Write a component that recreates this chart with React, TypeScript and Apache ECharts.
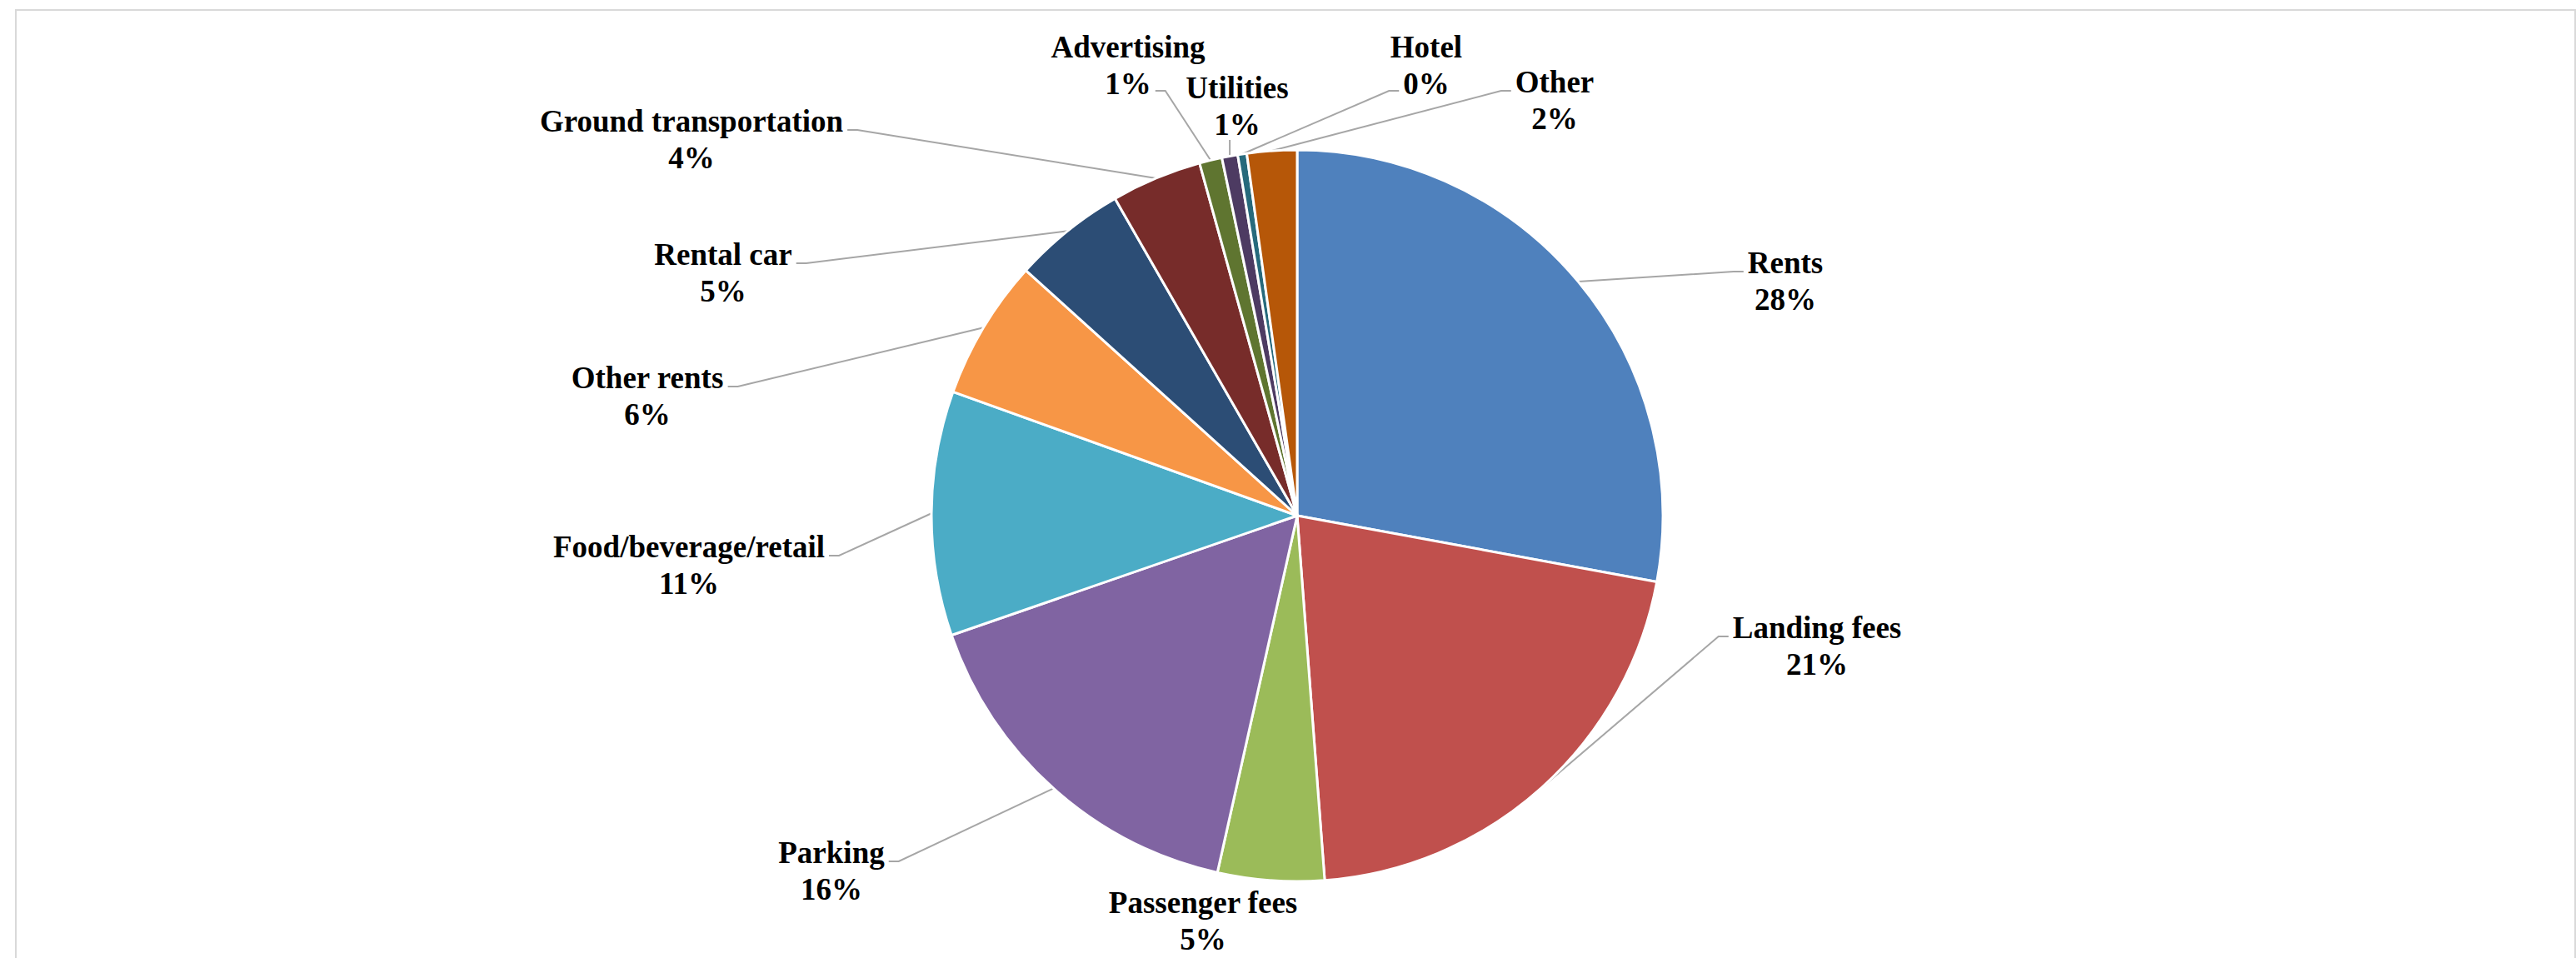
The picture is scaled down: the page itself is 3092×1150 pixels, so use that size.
import React, { useEffect, useRef } from 'react';
import * as echarts from 'echarts';

// ---- data ----
const categories = [
  'Rents',
  'Landing fees',
  'Passenger fees',
  'Parking',
  'Food/beverage/retail',
  'Other rents',
  'Rental car',
  'Ground transportation',
  'Advertising',
  'Utilities',
  'Hotel',
  'Other',
];
const shares = [27.9, 20.9, 4.7, 16.2, 10.8, 6.2, 5.0, 4.0, 1.0, 0.7, 0.4, 2.2];
const sliceColors = [
  '#4F81BD', '#C0504D', '#9BBB59', '#8064A2', '#4BACC6', '#F79646',
  '#2C4D75', '#772C2A', '#5F7530', '#4D3B62', '#276A7C', '#B65708',
];

// ---- layout (label block centres and how the leader line attaches) ----
const labelPlacement: [number, number, string][] = [
  [2143, 337, 'L1'],
  [2181, 775, 'L1'],
  [1444, 1105, 'none'],
  [998, 1045, 'R1'],
  [827, 678, 'R1'],
  [777, 475, 'R1'],
  [868, 327, 'R1'],
  [830, 167, 'R1'],
  [1354, 78, 'R2'],
  [1485, 127, 'B'],
  [1712, 78, 'L2'],
  [1866, 120, 'L1'],
];

const PIE_CX = 1557;
const PIE_CY = 619;
const PIE_R = 439;
const FONT_SIZE = 37;
const LINE_H = 44;
const FONT_FAMILY = "'Liberation Serif', 'Times New Roman', serif";

const total = shares.reduce((a, b) => a + b, 0);
const pctText = (v: number) => `${Math.round((v / total) * 100)}%`;

let measureCtx: CanvasRenderingContext2D | null = null;
function measure(text: string): number {
  if (!measureCtx) {
    const c = document.createElement('canvas');
    measureCtx = c.getContext('2d');
  }
  if (!measureCtx) return text.length * FONT_SIZE * 0.5;
  measureCtx.font = `bold ${FONT_SIZE}px ${FONT_FAMILY}`;
  return measureCtx.measureText(text).width;
}

function edgePoint(i: number): number[] {
  let cum = 0;
  for (let k = 0; k < i; k++) cum += shares[k];
  const mid = ((cum + shares[i] / 2) / total) * Math.PI * 2;
  return [PIE_CX + PIE_R * Math.sin(mid), PIE_CY - PIE_R * Math.cos(mid)];
}

export default function App() {
  const ref = useRef<HTMLDivElement>(null);

  useEffect(() => {
    document.body.style.margin = '0';
    if (!ref.current) return;
    const chart = echarts.init(ref.current, null, { renderer: 'svg' });

    const data = categories.map((name, i) => ({
      name,
      value: shares[i],
      itemStyle: { color: sliceColors[i] },
      labelLine: { show: labelPlacement[i][2] !== 'none' },
    }));

    chart.setOption({
      animation: false,
      backgroundColor: '#FFFFFF',
      graphic: [
        {
          type: 'rect',
          shape: { x: 19, y: 12, width: 3072, height: 1200 },
          style: { fill: 'none', stroke: '#D9D9D9', lineWidth: 2 },
          silent: true,
          z: -1,
        },
      ],
      series: [
        {
          type: 'pie',
          center: [PIE_CX, PIE_CY],
          radius: PIE_R,
          startAngle: 90,
          clockwise: true,
          avoidLabelOverlap: false,
          data,
          itemStyle: { borderColor: '#FFFFFF', borderWidth: 3 },
          emphasis: { disabled: true },
          label: {
            show: true,
            position: 'outside',
            formatter: (p: any) => `${p.name}\n${pctText(p.value)}`,
            fontFamily: FONT_FAMILY,
            fontWeight: 'bold',
            fontSize: FONT_SIZE,
            lineHeight: LINE_H,
            color: '#000000',
            align: 'center',
          },
          labelLine: {
            show: true,
            length: 20,
            length2: 12,
            lineStyle: { color: '#A6A6A6', width: 2 },
          },
          labelLayout: (params: any) => {
            const i = params.dataIndex;
            const [cx, cy, mode] = labelPlacement[i];
            const start =
              params.labelLinePoints && params.labelLinePoints[0]
                ? params.labelLinePoints[0]
                : edgePoint(i);
            const w1 = measure(categories[i]);
            const w2 = measure(pctText(shares[i]));
            const gap = 5;
            const stub = 12;
            const y1 = cy - 11;
            const y2 = cy + 31;
            let pts: number[][] | undefined;
            if (mode === 'L1') {
              const x = cx - w1 / 2 - gap;
              pts = [start, [x - stub, y1], [x, y1]];
            } else if (mode === 'R1') {
              const x = cx + w1 / 2 + gap;
              pts = [start, [x + stub, y1], [x, y1]];
            } else if (mode === 'L2') {
              const x = cx - w2 / 2 - gap;
              pts = [start, [x - stub, y2], [x, y2]];
            } else if (mode === 'R2') {
              const x = cx + w2 / 2 + gap;
              pts = [start, [x + stub, y2], [x, y2]];
            } else if (mode === 'B') {
              pts = [start, [start[0], cy + 41]];
            }
            const out: any = { x: cx, y: cy, align: 'center', verticalAlign: 'middle' };
            if (pts) out.labelLinePoints = pts;
            return out;
          },
        },
      ],
    });

    return () => chart.dispose();
  }, []);

  return (
    <div
      ref={ref}
      style={{ position: 'absolute', left: 0, top: 0, width: 3092, height: 1150 }}
    />
  );
}
